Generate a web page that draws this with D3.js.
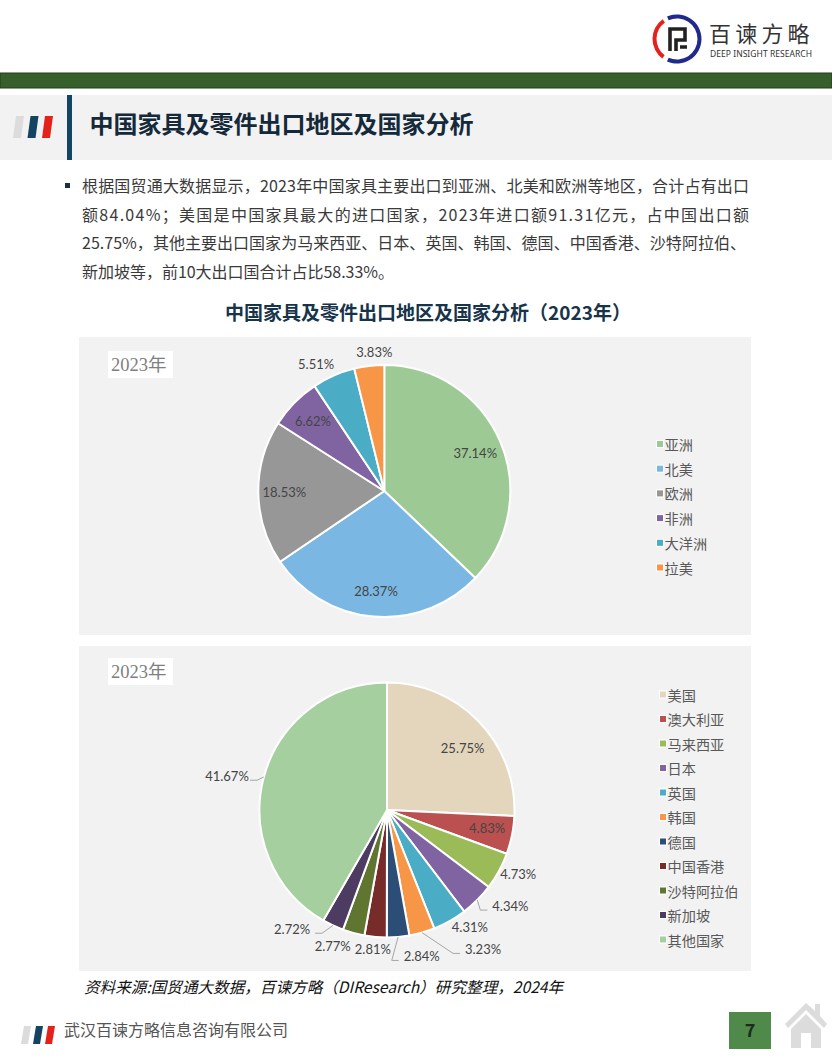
<!DOCTYPE html>
<html>
<head>
<meta charset="utf-8">
<title>中国家具及零件出口地区及国家分析</title>
<style>
html, body { margin: 0; padding: 0; background: #fff; }
svg { display: block; }
text { font-family: "Noto Sans CJK SC", "Noto Sans", sans-serif; }
.pct { font-family: Lato, "Noto Sans", sans-serif; font-size: 13px; fill: #454545; text-anchor: middle; dominant-baseline: central; }
.legend text { font-size: 14.2px; fill: #595959; dominant-baseline: central; }
.leader { fill: none; stroke: #a6a6a6; stroke-width: 1px; }
</style>
</head>
<body>
<div id="chart"></div>
<script src="https://cdn.jsdelivr.net/npm/d3@7"></script>
<script>
// data
const regions = ["亚洲", "北美", "欧洲", "非洲", "大洋洲", "拉美"];
const regionShares = [37.14, 28.37, 18.53, 6.62, 5.51, 3.83];
const regionColors = ["#9dca94", "#7ab8e3", "#979797", "#8064a2", "#4bacc6", "#f79646"];

const countries = ["美国", "澳大利亚", "马来西亚", "日本", "英国", "韩国", "德国", "中国香港", "沙特阿拉伯", "新加坡", "其他国家"];
const countryShares = [25.75, 4.83, 4.73, 4.34, 4.31, 3.23, 2.84, 2.81, 2.77, 2.72, 41.67];
const countryColors = ["#e4d6bc", "#bb5050", "#9bbb59", "#8064a2", "#4bacc6", "#f79646", "#2c4d75", "#772c2a", "#5f7530", "#4d3b62", "#a6cfa0"];

// label nudges away from the label ring, picked by eye
const regionNudges = [[-1, 1], [0, 0], [0, 0], [0, 0], [-28, -35], [2, -40]];
const countryNudges = [[-30, 39], [-43, -11], [3, -6], [20, -7], [11, -10], [56, -1], [22, 1], [-1, -6], [-16, -5], [-33, -13], [-19, 4]];
const countryLeaders = [3, 5, 6, 9, 10]; // slices whose label has a leader line

const bodyLines = [
    "根据国贸通大数据显示，2023年中国家具主要出口到亚洲、北美和欧洲等地区，合计占有出口",
    "额84.04%；美国是中国家具最大的进口国家，2023年进口额91.31亿元，占中国出口额",
    "25.75%，其他主要出口国家为马来西亚、日本、英国、韩国、德国、中国香港、沙特阿拉伯、",
    "新加坡等，前10大出口国合计占比58.33%。"
];
const bodyWidths = [667, 667, 664, 312]; // justified like the source page

const svg = d3.select("#chart").append("svg").attr("width", 832).attr("height", 1058);

// page furniture
function drawFlag(x, y, w, h, gap) {
    ["#dcdcdc", "#134462", "#e3231b"].forEach(function(c, i) {
        const x0 = x + i * gap, lean = 3;
        svg.append("path")
            .attr("d", `M${x0 + lean},${y}H${x0 + w}L${x0 + w - lean},${y + h}H${x0}Z`)
            .attr("fill", c);
    });
}

function drawLogo() {
    const arc = d3.arc().innerRadius(20.5).outerRadius(24.5);
    const g = svg.append("g").attr("transform", "translate(677,39)");
    const rad = Math.PI / 180;
    g.append("path").attr("fill", "#1f2a8c").attr("d", arc({ startAngle: -24 * rad, endAngle: 204 * rad }));
    g.append("path").attr("fill", "#e3231b").attr("d", arc({ startAngle: 217 * rad, endAngle: 324 * rad }));
    g.append("path")
        .attr("fill", "none").attr("stroke", "#222").attr("stroke-width", 3.6)
        .attr("d", "M-7,12V-10H8V1H-1V12M3,8H10");

    svg.append("text").attr("x", 709).attr("y", 41.5).text("百谏方略")
        .attr("font-size", 22).attr("letter-spacing", 4.2).attr("fill", "#333");
    svg.append("text").attr("x", 710).attr("y", 57).text("DEEP INSIGHT RESEARCH")
        .style("font-family", "'Noto Sans', sans-serif")
        .attr("font-size", 8.5).attr("fill", "#333").attr("textLength", 102);
}

function drawFrame() {
    drawLogo();
    svg.append("rect").attr("x", 0).attr("y", 73).attr("width", 832).attr("height", 15)
        .attr("fill", "#365f2c").attr("stroke", "#1f3d1a").attr("stroke-width", 1);

    svg.append("rect").attr("x", 0).attr("y", 95).attr("width", 832).attr("height", 65).attr("fill", "#f2f2f2");
    svg.append("rect").attr("x", 67).attr("y", 95).attr("width", 5).attr("height", 65).attr("fill", "#134462");
    drawFlag(13, 116, 11, 22, 14.5);
    svg.append("text").attr("x", 89.5).attr("y", 133).text("中国家具及零件出口地区及国家分析")
        .attr("font-size", 24).attr("font-weight", 700).attr("fill", "#14293a");

    svg.append("rect").attr("x", 65).attr("y", 183).attr("width", 5).attr("height", 5).attr("fill", "#1b2f45");
    svg.selectAll(".body-line").data(bodyLines).enter().append("text")
        .attr("class", "body-line")
        .attr("x", 82)
        .attr("y", function(d, i) { return 192 + i * 28.5; })
        .attr("font-size", 16).attr("fill", "#3a3a3a")
        .attr("textLength", function(d, i) { return bodyWidths[i]; })
        .text(function(d) { return d; });

    svg.append("text").attr("x", 428).attr("y", 320).attr("text-anchor", "middle")
        .text("中国家具及零件出口地区及国家分析（2023年）")
        .attr("font-size", 19).attr("font-weight", 700).attr("fill", "#17344a");

    svg.append("text").attr("x", 84).attr("y", 993)
        .text("资料来源:国贸通大数据，百谏方略（DIResearch）研究整理，2024年")
        .attr("font-size", 15.6).attr("font-style", "italic").attr("fill", "#111");

    drawFlag(21, 1026, 10, 18, 12);
    svg.append("text").attr("x", 64).attr("y", 1036).text("武汉百谏方略信息咨询有限公司")
        .attr("font-size", 16).attr("fill", "#555");

    svg.append("rect").attr("x", 729).attr("y", 1012).attr("width", 42).attr("height", 37).attr("fill", "#4f8a4b");
    svg.append("text").attr("x", 750).attr("y", 1037).attr("text-anchor", "middle").text("7")
        .attr("font-size", 18).attr("font-weight", 700).attr("fill", "#1c2b1c");

    svg.append("path").attr("fill", "#dcdcdc")
        .attr("d", "M806,1003L815,1011V1004H820V1016L827,1024L824,1028L806,1010L788,1028L785,1024Z" +
                   "M806,1014L821,1029V1048H811V1033H801V1048H791V1029Z");
}

// one pie panel
function drawPie(cfg) {
    svg.append("rect").attr("x", 79).attr("y", cfg.top).attr("width", 672).attr("height", cfg.height).attr("fill", "#f2f2f2");
    svg.append("rect").attr("x", 108).attr("y", cfg.tagTop).attr("width", 65).attr("height", 27).attr("fill", "#fff");
    svg.append("text").attr("x", 111).attr("y", cfg.tagTop + 20).text("2023年")
        .style("font-family", "'Liberation Serif', 'Noto Sans CJK SC', serif")
        .attr("font-size", 18.5).attr("fill", "#7f7f7f");

    const pie = d3.pie().sort(null).value(function(d) { return d; });
    const arc = d3.arc().innerRadius(0).outerRadius(cfg.radius);
    const ring = d3.arc().innerRadius(cfg.labelRadius).outerRadius(cfg.labelRadius);
    const edge = d3.arc().innerRadius(cfg.radius).outerRadius(cfg.radius);
    const slices = pie(cfg.values);

    const g = svg.append("g").attr("transform", `translate(${cfg.cx},${cfg.cy})`);

    g.selectAll(".slice").data(slices).enter().append("path")
        .attr("class", "slice")
        .attr("d", arc)
        .attr("fill", function(d, i) { return cfg.colors[i]; })
        .attr("stroke", "#fff")
        .attr("stroke-width", 2);

    function labelPos(d, i) {
        const c = ring.centroid(d);
        return [c[0] + cfg.nudges[i][0], c[1] + cfg.nudges[i][1]];
    }

    // leader lines for the labels pushed off their slice
    g.selectAll(".leader").data(slices.filter(function(d, i) { return cfg.leaders.includes(i); })).enter()
        .append("polyline")
        .attr("class", "leader")
        .attr("points", function(d) {
            const p = labelPos(d, d.index);
            const s = edge.centroid(d);
            const side = p[0] > s[0] ? -1 : 1;
            const end = [p[0] + side * 23, p[1] + 4];
            const elbow = [end[0] + side * 7, end[1]];
            return [s, elbow, end].map(function(q) { return q.join(","); }).join(" ");
        });

    g.selectAll(".pct").data(slices).enter().append("text")
        .attr("class", "pct")
        .attr("x", function(d, i) { return labelPos(d, i)[0]; })
        .attr("y", function(d, i) { return labelPos(d, i)[1]; })
        .text(function(d) { return d.value.toFixed(2) + "%"; });

    const y = d3.scalePoint().domain(cfg.names).range(cfg.legendRange);
    const legend = svg.append("g").attr("class", "legend");
    const item = legend.selectAll("g").data(cfg.names).enter().append("g")
        .attr("transform", function(d) { return `translate(${cfg.legendX},${y(d)})`; });
    item.append("rect").attr("x", -1).attr("y", -4).attr("width", 8).attr("height", 8).attr("fill", "#fff");
    item.append("rect").attr("x", 0).attr("y", -3).attr("width", 6).attr("height", 6)
        .attr("fill", function(d, i) { return cfg.colors[i]; });
    item.append("text").attr("x", 7.5).text(function(d) { return d; });
}

drawFrame();

drawPie({
    top: 337, height: 298, tagTop: 351, cx: 384.3, cy: 491, radius: 126, labelRadius: 100,
    names: regions, values: regionShares, colors: regionColors,
    nudges: regionNudges, leaders: [], legendX: 657, legendRange: [444, 567.5]
});

drawPie({
    top: 646, height: 325, tagTop: 658, cx: 387, cy: 810, radius: 127.5, labelRadius: 146,
    names: countries, values: countryShares, colors: countryColors,
    nudges: countryNudges, leaders: countryLeaders, legendX: 660, legendRange: [694.5, 939.5]
});
</script>
</body>
</html>
